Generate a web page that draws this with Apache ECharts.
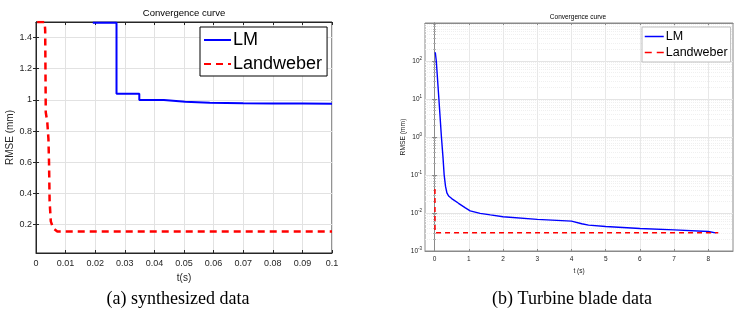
<!DOCTYPE html>
<html><head><meta charset="utf-8">
<script src="https://cdn.jsdelivr.net/npm/echarts@6/dist/echarts.min.js"></script>
<style>html,body{margin:0;padding:0;background:#fff}#c{width:746px;height:318px}</style>
</head><body><div id="c"></div>
<script>
// ---- data ----
const seriesNames = ['LM', 'Landweber'];
const chartTitle = 'Convergence curve';
const captions = ['(a) synthesized data', '(b) Turbine blade data'];

// (a) synthesized data
const xTicksA = [0, 0.01, 0.02, 0.03, 0.04, 0.05, 0.06, 0.07, 0.08, 0.09, 0.1];
const yTicksA = [0.2, 0.4, 0.6, 0.8, 1, 1.2, 1.4];
const lmA_t = [0.0192, 0.0272, 0.0272, 0.0349, 0.0349, 0.0432, 0.0432, 0.0504, 0.0504, 0.0587, 0.0587, 0.07, 0.08, 0.09, 0.1];
const lmA_v = [1.495, 1.495, 1.04, 1.04, 1.0, 1.0, 0.988, 0.988, 0.982, 0.982, 0.979, 0.978, 0.977, 0.976, 0.975];
const lwA_t = [0.0004, 0.0029, 0.0031, 0.0033, 0.0038, 0.0042, 0.0044, 0.0046, 0.0050, 0.0058, 0.0072, 0.1];
const lwA_v = [1.5, 1.5, 1.45, 0.92, 0.86, 0.75, 0.6, 0.35, 0.22, 0.175, 0.155, 0.155];

// (b) Turbine blade data
const xTicksB = [0, 1, 2, 3, 4, 5, 6, 7, 8];
const lmB_t = [0.02, 0.05, 0.12, 0.2, 0.245, 0.28, 0.32, 0.36, 0.41, 0.5, 0.7, 0.9, 1.04, 1.33, 1.63, 2.0, 3.0, 4.0, 4.3, 4.5, 5.0, 6.0, 7.0, 8.0, 8.21];
const lmB_v = [170, 100, 12, 1.0, 0.3, 0.1, 0.05, 0.034, 0.028, 0.024, 0.018, 0.0137, 0.0114, 0.0098, 0.0089, 0.0080, 0.0068, 0.0061, 0.0052, 0.0048, 0.0044, 0.0039, 0.0036, 0.00325, 0.0030];
const lwB_t = [0.01, 0.012, 8.29];
const lwB_v = [0.043, 0.003, 0.003];

// ---- helpers ----
const zip = (a, b) => a.map((v, i) => [v, b[i]]);
const F = '"Liberation Sans", Arial, Helvetica, sans-serif';
const SERIF = '"Liberation Serif", "Times New Roman", serif';
const axA = '#262626';
const axB = '#8a8a8a';

const chart = echarts.init(document.getElementById('c'), null, {renderer: 'canvas'});

const option = {
  animation: false,
  backgroundColor: '#fff',
  grid: [
    {left: 36, top: 22, width: 296, height: 231, show: true, borderColor: axA, borderWidth: 1},
    {left: 425, top: 23, width: 308, height: 228, show: true, borderColor: axB, borderWidth: 1}
  ],
  xAxis: [
    {gridIndex: 0, type: 'value', min: 0, max: 0.1, interval: 0.01, position: 'bottom',
     name: 't(s)', nameLocation: 'middle', nameGap: 18,
     nameTextStyle: {fontFamily: F, fontSize: 10, color: axA},
     axisLine: {show: true, lineStyle: {color: axA}},
     axisTick: {show: true, inside: true, length: 3, lineStyle: {color: axA}},
     axisLabel: {fontFamily: F, fontSize: 9, color: axA, margin: 6},
     splitLine: {show: true, lineStyle: {color: '#e2e2e2'}}},
    {gridIndex: 0, type: 'value', min: 0, max: 0.1, interval: 0.01, position: 'top',
     axisLine: {show: true, lineStyle: {color: axA}},
     axisTick: {show: true, inside: true, length: 3, lineStyle: {color: axA}},
     axisLabel: {show: false}, splitLine: {show: false}},
    {gridIndex: 1, type: 'value', min: -0.28, max: 8.72, position: 'bottom',
     name: 't (s)', nameLocation: 'middle', nameGap: 13,
     nameTextStyle: {fontFamily: F, fontSize: 6.5, color: '#222'},
     axisLine: {show: true, lineStyle: {color: axB}},
     axisTick: {show: true, inside: true, length: 2, customValues: xTicksB, lineStyle: {color: axB}},
     axisLabel: {fontFamily: F, fontSize: 6.5, color: '#222', margin: 5, customValues: xTicksB},
     splitLine: {show: true, lineStyle: {color: '#e8e8e8'}}},
    {gridIndex: 1, type: 'value', min: -0.28, max: 8.72, position: 'top',
     axisLine: {show: true, lineStyle: {color: axB}},
     axisTick: {show: true, inside: true, length: 2, customValues: xTicksB, lineStyle: {color: axB}},
     axisLabel: {show: false, customValues: xTicksB}, splitLine: {show: false}}
  ],
  yAxis: [
    {gridIndex: 0, type: 'value', min: 0.017, max: 1.5, position: 'left',
     name: 'RMSE (mm)', nameLocation: 'middle', nameGap: 21,
     nameTextStyle: {fontFamily: F, fontSize: 10, color: axA},
     axisLine: {show: true, lineStyle: {color: axA}},
     axisTick: {show: true, inside: true, length: 3, customValues: yTicksA, lineStyle: {color: axA}},
     axisLabel: {fontFamily: F, fontSize: 9, color: axA, margin: 4, customValues: yTicksA},
     splitLine: {show: true, lineStyle: {color: '#e2e2e2'}}},
    {gridIndex: 0, type: 'value', min: 0.017, max: 1.5, position: 'right',
     axisLine: {show: true, lineStyle: {color: axA}},
     axisTick: {show: true, inside: true, length: 3, customValues: yTicksA, lineStyle: {color: axA}},
     axisLabel: {show: false, customValues: yTicksA}, splitLine: {show: false}},
    {gridIndex: 1, type: 'log', logBase: 10, min: 0.001, max: 1000, splitNumber: 6, position: 'left',
     name: 'RMSE (mm)', nameLocation: 'middle', nameGap: 17,
     nameTextStyle: {fontFamily: F, fontSize: 6.7, color: '#222'},
     axisLine: {show: true, lineStyle: {color: axB}},
     axisTick: {show: true, inside: true, length: 2.5, lineStyle: {color: axB}},
     minorTick: {show: true, splitNumber: 9, length: 1.5, lineStyle: {color: '#b5b5b5'}},
     axisLabel: {margin: 3, color: '#222',
       formatter: v => v >= 999 ? '' : '{b|10}{e|' + Math.round(Math.log10(v)) + '}',
       rich: {b: {fontFamily: F, fontSize: 6.5, color: '#222'},
              e: {fontFamily: F, fontSize: 4.5, color: '#222', verticalAlign: 'top', padding: [0, 0, 5, 0]}}},
     splitLine: {show: true, lineStyle: {color: '#e4e4e4'}},
     minorSplitLine: {show: true, lineStyle: {color: '#f0f0f0', type: [1, 1]}}},
    {gridIndex: 1, type: 'log', logBase: 10, min: 0.001, max: 1000, splitNumber: 6, position: 'right',
     axisLine: {show: true, lineStyle: {color: axB}},
     axisTick: {show: true, inside: true, length: 2.5, lineStyle: {color: axB}},
     minorTick: {show: true, splitNumber: 9, length: 1.5, lineStyle: {color: '#b5b5b5'}},
     axisLabel: {show: false}, splitLine: {show: false}}
  ],
  legend: [
    {data: seriesNames, left: 200, top: 27, orient: 'vertical', selectedMode: false,
     itemWidth: 27, itemHeight: 14, itemGap: 6, padding: [4, 5, 3, 3],
     backgroundColor: '#fff', borderColor: '#000', borderWidth: 1, borderRadius: 0,
     itemStyle: {opacity: 0},
     textStyle: {fontFamily: F, fontSize: 18, color: '#000', padding: [0, 0, 0, -3]}},
    {data: seriesNames, left: 642, top: 27, orient: 'vertical', selectedMode: false,
     itemWidth: 19, itemHeight: 10, itemGap: 3, padding: [3, 3, 3, 2],
     backgroundColor: '#fff', borderColor: '#bdbdbd', borderWidth: 1, borderRadius: 0,
     itemStyle: {opacity: 0},
     lineStyle: {width: 1.5},
     textStyle: {fontFamily: F, fontSize: 12.5, color: '#000', padding: [0, 0, 0, -3]}}
  ],
  series: [
    {name: seriesNames[0], type: 'line', xAxisIndex: 0, yAxisIndex: 0, data: zip(lmA_t, lmA_v),
     symbol: 'none', lineStyle: {color: '#0000ff', width: 2}, itemStyle: {color: '#0000ff'}, z: 3},
    {name: seriesNames[1], type: 'line', xAxisIndex: 0, yAxisIndex: 0, data: zip(lwA_t, lwA_v),
     symbol: 'none', lineStyle: {color: '#ff0000', width: 2.5, type: [7, 5]}, itemStyle: {color: '#ff0000'}, z: 3},
    {name: seriesNames[0], type: 'line', xAxisIndex: 2, yAxisIndex: 2, data: zip(lmB_t, lmB_v),
     symbol: 'none', lineStyle: {color: '#0000ff', width: 1.4}, itemStyle: {color: '#0000ff'}, z: 3},
    {name: seriesNames[1], type: 'line', xAxisIndex: 2, yAxisIndex: 2, data: zip(lwB_t, lwB_v),
     symbol: 'none', lineStyle: {color: '#ff0000', width: 1.5, type: [5, 4]}, itemStyle: {color: '#ff0000'}, z: 3}
  ],
  graphic: [
    {type: 'text', x: 184, y: 13, style: {text: chartTitle, font: '9.5px ' + F, fill: '#000', align: 'center', verticalAlign: 'middle', textAlign: 'center', textVerticalAlign: 'middle'}},
    {type: 'text', x: 578, y: 17, style: {text: chartTitle, font: '6.5px ' + F, fill: '#000', align: 'center', verticalAlign: 'middle', textAlign: 'center', textVerticalAlign: 'middle'}},
    {type: 'text', x: 178, y: 299, style: {text: captions[0], font: '18px ' + SERIF, fill: '#000', align: 'center', verticalAlign: 'middle', textAlign: 'center', textVerticalAlign: 'middle'}},
    {type: 'text', x: 572, y: 299, style: {text: captions[1], font: '18px ' + SERIF, fill: '#000', align: 'center', verticalAlign: 'middle', textAlign: 'center', textVerticalAlign: 'middle'}}
  ]
};
chart.setOption(option);
</script>
</body></html>
